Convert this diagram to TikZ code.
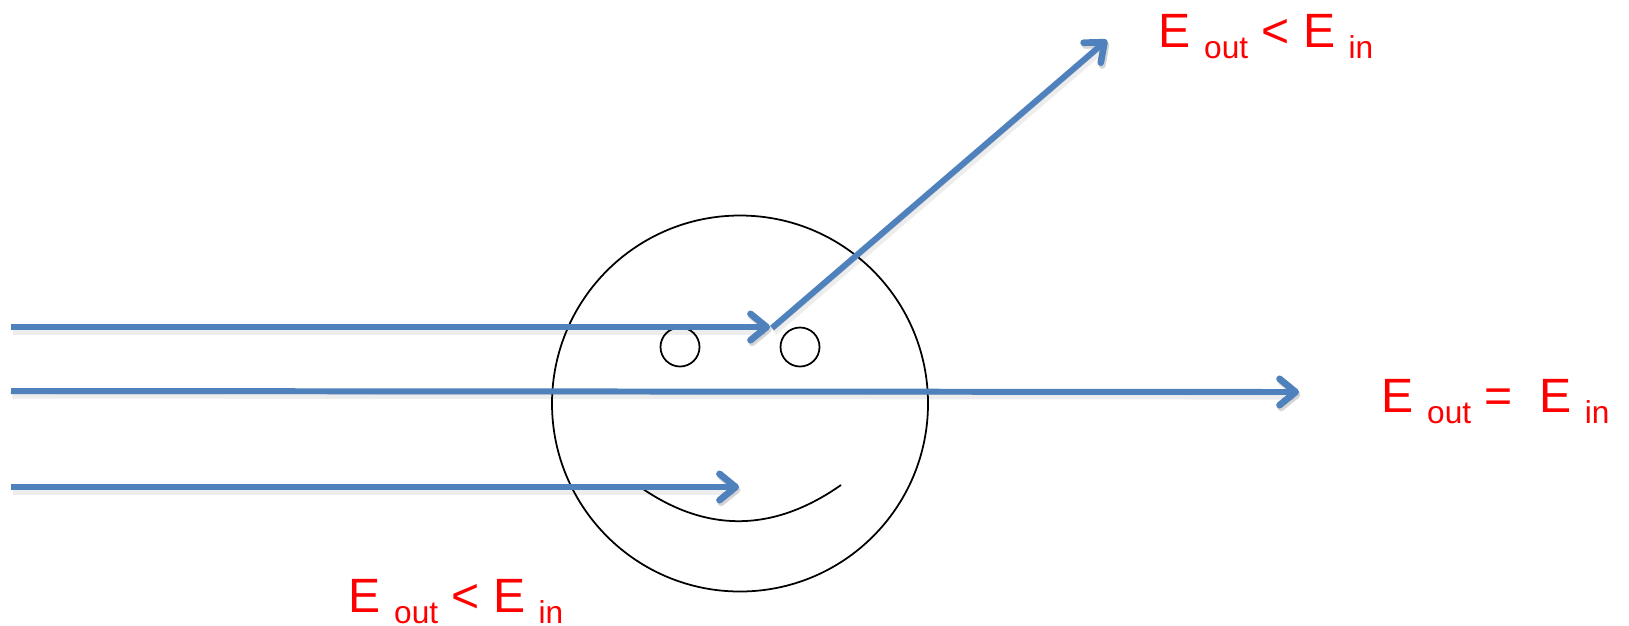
\documentclass[tikz,border=0pt]{standalone}
\usepackage{fontspec}
\setmainfont{Liberation Sans}
\usepackage{tikz}
\usetikzlibrary{arrows.meta}
\definecolor{raycol}{RGB}{79, 129, 189}
\definecolor{labelred}{RGB}{255, 0, 0}
\newcommand{\lowsub}[1]{\raisebox{-3.2pt}{\fontsize{9}{10}\selectfont #1}}
\tikzset{
  ray/.style={line width=1.7pt, raycol,
    -{Straight Barb[length=4.6pt, width=7.5pt, line width=1.9pt, round]},
    preaction={draw=black, draw opacity=0.07, line width=2.6pt, transform canvas={shift={(0.015,-0.03)}}},
    preaction={draw=black, draw opacity=0.1, transform canvas={shift={(0.015,-0.025)}}}},
  outline/.style={black, line width=0.5pt},
  energy/.style={labelred, anchor=base west, inner sep=0pt,
    font=\fontsize{13.7}{16}\selectfont},
}
\begin{document}
\begin{tikzpicture}
\useasboundingbox (0,0) rectangle (16.29,6.25);
% face
\coordinate (face) at (7.40,2.215);
\coordinate (eyeleft) at (6.80,2.78);
\coordinate (eyeright) at (8.00,2.78);
\draw[outline] (face) circle (1.88);
\draw[outline] (eyeleft) circle (0.195);
\draw[outline] (eyeright) circle (0.195);
\draw[outline] (6.43,1.36) .. controls (7.08,0.92) and (7.74,0.93) .. (8.41,1.40);
% rays
\coordinate (inone) at (0.11,2.98);
\coordinate (intwo) at (0.11,2.34);
\coordinate (inthree) at (0.11,1.38);
\coordinate (hitone) at (7.70,2.98);
\coordinate (kink) at (7.72,2.97);
\coordinate (outone) at (11.07,5.85);
\coordinate (outtwo) at (12.99,2.33);
\coordinate (hitthree) at (7.39,1.38);
\draw[ray] (inone) -- (hitone);
\draw[ray] (kink) -- (outone);
\draw[ray] (intwo) -- (outtwo);
\draw[ray] (inthree) -- (hitthree);
% labels
\node[energy] (labeltop) at (11.58,5.78) {E \lowsub{out} < E \lowsub{in}};
\node[energy] (labelright) at (13.81,2.13) {E \lowsub{out} =\ \ E \lowsub{in}};
\node[energy] (labelbottom) at (3.48,0.13) {E \lowsub{out} < E \lowsub{in}};
\end{tikzpicture}
\end{document}
